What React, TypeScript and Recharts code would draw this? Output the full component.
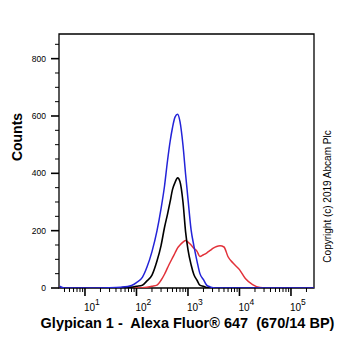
import React from 'react'
import { LineChart, Line, XAxis, YAxis, ReferenceArea } from 'recharts'

// fluorescence channels (log axis) and event counts
const channels = [
  3.2, 4, 10, 30, 50, 80, 100, 130, 160, 200, 250, 300, 350, 400, 450, 500, 560, 630, 700, 800,
  900, 1000, 1150, 1300, 1500, 1700, 2000, 2300, 2700, 3100, 3600, 4200, 5000, 6000, 7500,
  10000, 13000, 18000, 25000, 40000, 100000, 280000,
]
const isotype = [
  6, 0, 0, 1, 3, 9, 19, 37, 73, 127, 199, 277, 355, 443, 511, 559, 596, 606, 580, 498,
  396, 311, 203, 148, 93, 51, 29, 10, 4, 1, 0, 0, 0, 0, 0,
  0, 0, 0, 0, 0, 0, 0,
]
const unstained = [
  0, 0, 0, 0, 1, 3, 6, 10, 25, 45, 94, 148, 211, 257, 301, 343, 368, 384, 371, 300,
  195, 134, 81, 47, 27, 10, 6, 2, 1, 0, 0, 0, 0, 0, 0,
  0, 0, 0, 0, 0, 0, 0,
]
const glypican = [
  0, 0, 0, 0, 0, 0, 0, 1, 3, 6, 10, 27, 48, 70, 89, 105, 122, 140, 150, 160,
  166, 160, 150, 139, 128, 110, 116, 122, 131, 139, 145, 147, 143, 109, 87,
  64, 33, 12, 2, 0, 0, 0,
]

const decades = [1, 2, 3, 4, 5]
const xDomain = [3.13, 280000]
const yMax = 886
const yMajor = [0, 200, 400, 600, 800]

const data = channels.map((c, i) => ({
  x: c,
  isotype: isotype[i],
  unstained: unstained[i],
  glypican: glypican[i],
}))

const xTicks: number[] = []
for (let d = 0; d <= 5; d++) {
  for (let k = 1; k <= 9; k++) {
    const v = k * Math.pow(10, d)
    if (v >= xDomain[0] && v <= xDomain[1]) xTicks.push(v)
  }
}
const yTicks: number[] = []
for (let v = 0; v < yMax; v += 50) yTicks.push(v)

const font = '"Liberation Sans", Arial, sans-serif'

const XTick = (props: any) => {
  const { x, y, payload } = props
  const v = payload.value
  const exp = Math.round(Math.log10(v))
  const major = decades.includes(exp) && Math.abs(v - Math.pow(10, exp)) < 1e-6
  return (
    <g>
      <line x1={x} x2={x} y1={y} y2={y + (major ? 8 : 4)} stroke="#000" strokeWidth={major ? 1.6 : 1} />
      {major && (
        <text x={x - 1} y={y + 23} fontFamily={font} fontSize={10} fill="#000">
          10
          <tspan dy={-6} fontSize={8.5}>
            {exp}
          </tspan>
        </text>
      )}
    </g>
  )
}

const YTick = (props: any) => {
  const { x, y, payload } = props
  const major = yMajor.includes(payload.value)
  return (
    <g>
      <line x1={x - (major ? 8 : 4)} x2={x} y1={y} y2={y} stroke="#000" strokeWidth={major ? 1.6 : 1} />
      {major && (
        <text x={x - 13} y={y + 3} textAnchor="end" fontFamily={font} fontSize={8.5} fill="#000">
          {payload.value}
        </text>
      )}
    </g>
  )
}

export default function App() {
  return (
    <div style={{ position: 'absolute', left: 0, top: 0, width: 362, height: 351, background: '#fff' }}>
      <LineChart width={362} height={351} data={data} margin={{ top: 34, right: 48, left: 0, bottom: 0 }}>
        <XAxis
          dataKey="x"
          type="number"
          scale="log"
          domain={xDomain}
          allowDataOverflow
          ticks={xTicks}
          interval={0}
          tick={<XTick />}
          tickLine={false}
          tickSize={0}
          tickMargin={0}
          height={63}
          axisLine={false}
        />
        <YAxis
          type="number"
          domain={[0, yMax]}
          allowDataOverflow
          ticks={yTicks}
          interval={0}
          tick={<YTick />}
          tickLine={false}
          tickSize={0}
          tickMargin={0}
          width={59}
          axisLine={false}
        />
        <ReferenceArea x1={xDomain[0]} x2={xDomain[1]} y1={0} y2={yMax} fill="none" stroke="#000" strokeWidth={1.3} fillOpacity={0} />
        <Line dataKey="glypican" type="monotone" stroke="#e2323a" strokeWidth={1.5} dot={false} isAnimationActive={false} />
        <Line dataKey="unstained" type="monotone" stroke="#000000" strokeWidth={1.6} dot={false} isAnimationActive={false} />
        <Line dataKey="isotype" type="monotone" stroke="#2323d8" strokeWidth={1.5} dot={false} isAnimationActive={false} />
      </LineChart>
      <svg width={362} height={351} style={{ position: 'absolute', left: 0, top: 0, pointerEvents: 'none' }}>
        <text x={21.5} y={137} transform="rotate(-90 21.5 137)" textAnchor="middle" fontFamily={font} fontWeight="bold" fontSize={14} fill="#000">
          Counts
        </text>
        <text x={187.5} y={328} textAnchor="middle" fontFamily={font} fontWeight="bold" fontSize={14.5} fill="#000" style={{ whiteSpace: 'pre' }}>
          {'Glypican 1 -  Alexa Fluor® 647  (670/14 BP)'}
        </text>
        <text x={331} y={196.5} transform="rotate(-90 331 196.5)" textAnchor="middle" fontFamily={font} fontSize={10} fill="#000">
          Copyright (c) 2019 Abcam Plc
        </text>
      </svg>
    </div>
  )
}
